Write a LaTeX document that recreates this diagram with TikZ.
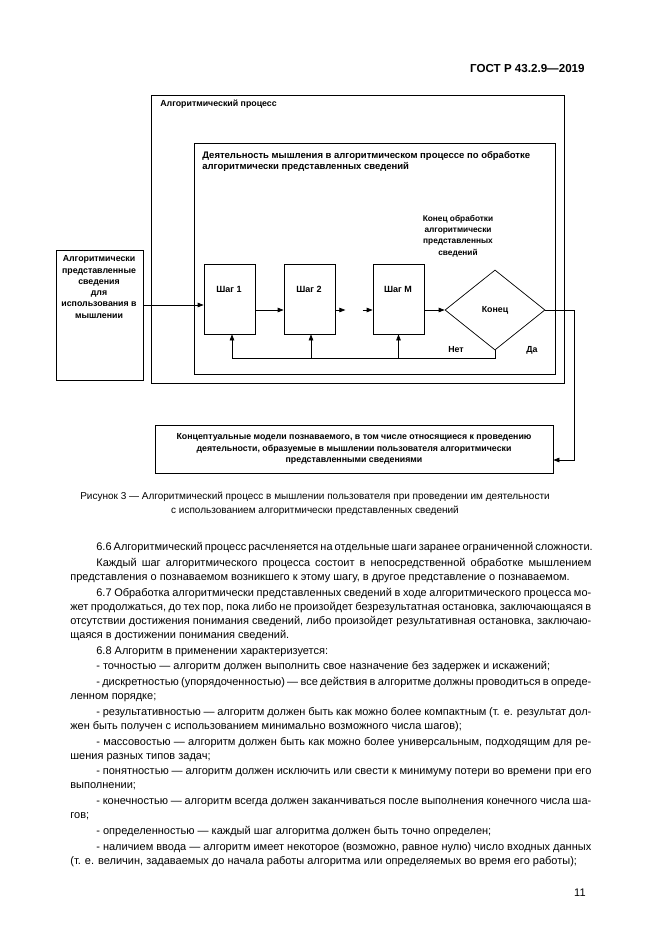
\documentclass[tikz,border=0pt]{standalone}
\usepackage{fontspec}
\setmainfont{Liberation Sans}
\usetikzlibrary{shapes.geometric,arrows.meta}
\newcommand{\fullline}[1]{\makebox[521pt][s]{#1}}
\newcommand{\indline}[1]{\hspace*{26pt}\makebox[495pt][s]{#1}}
\newcommand{\indshort}[1]{\hspace*{26pt}#1}
\tikzset{
  box/.style={draw,inner sep=0pt},
  lbl/.style={font=\fontsize{8.8}{11.3}\selectfont\bfseries,inner sep=0pt},
  tip/.style={-{Triangle[length=6pt,width=4.5pt]}},
}

\begin{document}
\begin{tikzpicture}[x=1pt,y=-1pt,line width=0.7pt]
  \useasboundingbox (0,0) rectangle (661,935);
  \node[anchor=east,inner sep=0pt,font=\fontsize{11.6}{13}\selectfont\bfseries] (gost) at (585,69) {ГОСТ Р 43.2.9—2019};

  % boxes of the figure
  \node[box,minimum width=413pt,minimum height=288pt] (proc) at (357.5,239) {};
  \node[box,minimum width=361pt,minimum height=231pt] (act) at (374.5,258.5) {};
  \node[box,minimum width=87pt,minimum height=130pt] (input) at (99.5,315) {};
  \node[box,minimum width=51pt,minimum height=70pt] (s1) at (229.5,299) {};
  \node[box,minimum width=51pt,minimum height=70pt] (s2) at (309.5,299) {};
  \node[box,minimum width=51pt,minimum height=70pt] (sm) at (398.5,299) {};
  \node[box,diamond,minimum width=100pt,minimum height=80pt,lbl] (end) at (495,310) {Конец};
  \node[box,minimum width=398pt,minimum height=48pt,lbl,align=center] (model) at (354,449)
    {Концептуальные модели познаваемого, в том числе относящиеся к проведению\\
     деятельности, образуемые в мышлении пользователя алгоритмически\\
     представленными сведениями};

  % labels
  \node[lbl,anchor=west] (lproc) at (160,104) {Алгоритмический процесс};
  \node[lbl,anchor=north west,align=left,font=\fontsize{9.5}{11.2}\selectfont\bfseries] (lact) at (202,151)
    {Деятельность мышления в алгоритмическом процессе по обработке\\
     алгоритмически представленных сведений};
  \node[lbl,align=center,font=\fontsize{8.3}{11.3}\selectfont\bfseries] (lend) at (458,236)
    {Конец обработки\\ алгоритмически\\ представленных\\ сведений};
  \node[lbl,align=center] (lin) at (99,287)
    {Алгоритмически\\ представленные\\ сведения\\ для\\ использования в\\ мышлении};
  \node[lbl,font=\fontsize{9}{11}\selectfont\bfseries] (ls1) at (229,289) {Шаг 1};
  \node[lbl,font=\fontsize{9}{11}\selectfont\bfseries] (ls2) at (309,289) {Шаг 2};
  \node[lbl,font=\fontsize{9}{11}\selectfont\bfseries] (lsm) at (398,289) {Шаг M};
  \node[lbl] (lno) at (456,350) {Нет};
  \node[lbl] (lyes) at (532,350) {Да};

  % connectors
  \coordinate (gapa) at ([xshift=10pt,yshift=-11pt]s2.east);
  \coordinate (gapb) at ([xshift=-10pt,yshift=-11pt]sm.west);
  \coordinate (outx) at (574,0);
  \coordinate (loop) at (0,358);
  \draw[tip] ([yshift=10pt]input.east) -- ([yshift=-6pt]s1.west);
  \draw[tip] ([yshift=-11pt]s1.east) -- ([yshift=-11pt]s2.west);
  \draw[tip] ([yshift=-11pt]s2.east) -- (gapa);
  \draw[tip] (gapb) -- ([yshift=-11pt]sm.west);
  \draw[tip] ([yshift=-11pt]sm.east) -- (end.west);
  \draw[tip] (end.east) -- (end.east -| outx) |- ([yshift=-11pt]model.east);
  \draw[tip] (end.south) -- (end.south |- loop) -| ([xshift=2.5pt]s1.south);
  \draw[tip] ([xshift=1.5pt]s2.south |- loop) -- ([xshift=1.5pt]s2.south);
  \draw[tip] (sm.south |- loop) -- (sm.south);

  % caption and text
  \node[inner sep=0pt,align=center,font=\fontsize{10}{14}\selectfont] (caption) at (315,504)
    {Рисунок 3 — Алгоритмический процесс в мышлении пользователя при проведении им деятельности\\
     с использованием алгоритмически представленных сведений};
  \node[inner sep=0pt,anchor=north west,align=left,font=\fontsize{11}{14.1}\selectfont] (body) at (70,542)
    {\indline{6.6 Алгоритмический процесс расчленяется на отдельные шаги заранее ограниченной сложности.}\\[1.6pt]
     \indline{Каждый шаг алгоритмического процесса состоит в непосредственной обработке мышлением}\\
     представления о познаваемом возникшего к этому шагу, в другое представление о познаваемом.\\[1.6pt]
     \indline{6.7 Обработка алгоритмически представленных сведений в ходе алгоритмического процесса мо-}\\
     \fullline{жет продолжаться, до тех пор, пока либо не произойдет безрезультатная остановка, заключающаяся в}\\
     \fullline{отсутствии достижения понимания сведений, либо произойдет результативная остановка, заключаю-}\\
     щаяся в достижении понимания сведений.\\[1.6pt]
     \indshort{6.8 Алгоритм в применении характеризуется:}\\[1.6pt]
     \indshort{- точностью — алгоритм должен выполнить свое назначение без задержек и искажений;}\\[1.6pt]
     \indline{- дискретностью (упорядоченностью) — все действия в алгоритме должны проводиться в опреде-}\\
     ленном порядке;\\[1.6pt]
     \indline{- результативностью — алгоритм должен быть как можно более компактным (т. е. результат дол-}\\
     жен быть получен с использованием минимально возможного числа шагов);\\[1.6pt]
     \indline{- массовостью — алгоритм должен быть как можно более универсальным, подходящим для ре-}\\
     шения разных типов задач;\\[1.6pt]
     \indline{- понятностью — алгоритм должен исключить или свести к минимуму потери во времени при его}\\
     выполнении;\\[1.6pt]
     \indline{- конечностью — алгоритм всегда должен заканчиваться после выполнения конечного числа ша-}\\
     гов;\\[1.6pt]
     \indshort{- определенностью — каждый шаг алгоритма должен быть точно определен;}\\[1.6pt]
     \indline{- наличием ввода — алгоритм имеет некоторое (возможно, равное нулю) число входных данных}\\
     (т. е. величин, задаваемых до начала работы алгоритма или определяемых во время его работы);};
  \node[anchor=east,inner sep=0pt,font=\fontsize{11}{13}\selectfont] (page) at (586,893) {11};
\end{tikzpicture}
\end{document}
